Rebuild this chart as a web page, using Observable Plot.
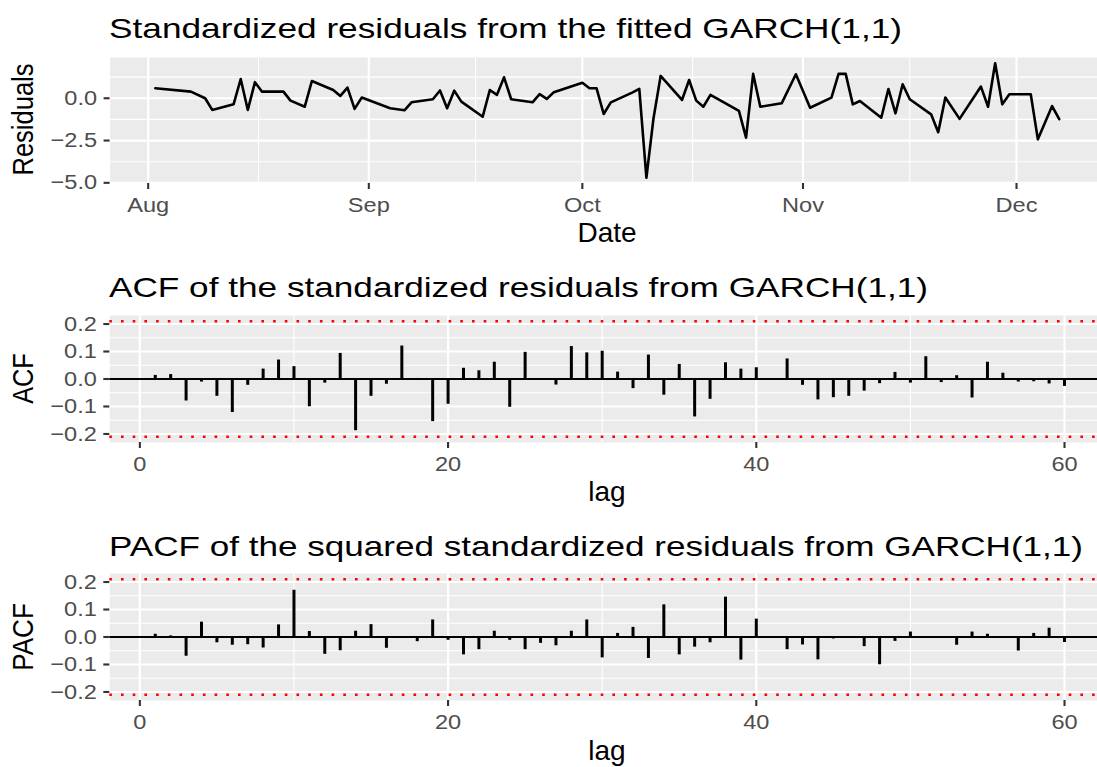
<!DOCTYPE html>
<html>
<head>
<meta charset="utf-8">
<script src="https://cdn.jsdelivr.net/npm/d3@7"></script>
<script src="https://cdn.jsdelivr.net/npm/@observablehq/plot@0.6"></script>
<style>
  html, body { margin: 0; padding: 0; background: #ffffff; }
  #wrap { position: relative; width: 1097px; height: 767px; overflow: hidden; font-family: "Liberation Sans", Arial, Helvetica, sans-serif; }
  #wrap > .panel { position: absolute; left: 0; }
  #wrap > svg.overlay { position: absolute; left: 0; top: 0; pointer-events: none; }
</style>
</head>
<body>
<div id="wrap"></div>
<script>
// ---------------- data ----------------
const dates = [
  "2018-08-02","2018-08-07","2018-08-09","2018-08-10","2018-08-13","2018-08-14","2018-08-15","2018-08-16","2018-08-17","2018-08-20","2018-08-21","2018-08-23","2018-08-24","2018-08-27","2018-08-28","2018-08-29","2018-08-30","2018-08-31",
  "2018-09-04","2018-09-06","2018-09-07","2018-09-10","2018-09-11","2018-09-12","2018-09-13","2018-09-14","2018-09-17","2018-09-18","2018-09-19","2018-09-20","2018-09-21","2018-09-24","2018-09-25","2018-09-26","2018-09-27",
  "2018-10-01","2018-10-02","2018-10-03","2018-10-04","2018-10-05","2018-10-08","2018-10-09","2018-10-10","2018-10-11","2018-10-12","2018-10-15","2018-10-16","2018-10-17","2018-10-18","2018-10-19","2018-10-23","2018-10-24","2018-10-25","2018-10-26","2018-10-29","2018-10-31",
  "2018-11-02","2018-11-05","2018-11-06","2018-11-07","2018-11-08","2018-11-09","2018-11-12","2018-11-13","2018-11-14","2018-11-15","2018-11-16","2018-11-19","2018-11-20","2018-11-21","2018-11-23","2018-11-26","2018-11-27","2018-11-28","2018-11-29","2018-11-30",
  "2018-12-03","2018-12-04","2018-12-06","2018-12-07"
];
const residuals = [
  0.59,0.39,0.00,-0.69,-0.36,1.14,-0.69,0.95,0.39,0.39,-0.14,-0.50,1.02,0.49,0.14,0.63,-0.63,0.04,
  -0.59,-0.71,-0.24,-0.06,0.46,-0.59,0.45,-0.20,-1.09,0.49,0.20,1.24,-0.06,-0.24,0.24,-0.04,0.36,
  0.92,0.59,0.59,-0.93,-0.24,0.33,0.55,-4.70,-1.18,1.32,-0.10,1.08,-0.14,-0.50,0.20,-0.75,-2.33,1.44,-0.50,-0.30,1.42,
  -0.56,0.04,1.44,1.44,-0.36,-0.16,-1.15,0.55,-0.89,0.83,-0.06,-0.95,-2.01,0.04,-1.22,0.69,-0.50,2.07,-0.36,0.24,
  0.24,-2.43,-0.46,-1.24
];
const lags = d3.range(1, 61);
const acfValues = [
  0.013, 0.016,-0.080,-0.011,-0.063,-0.122,-0.023, 0.036, 0.069, 0.045,
 -0.101,-0.015, 0.093,-0.188,-0.063,-0.019, 0.120, 0.002,-0.155,-0.092,
  0.039, 0.030, 0.061,-0.103, 0.097, 0.001,-0.022, 0.118, 0.095, 0.101,
  0.025,-0.035, 0.087,-0.059, 0.053,-0.138,-0.074, 0.059, 0.036, 0.041,
 -0.003, 0.073,-0.023,-0.076,-0.068,-0.063,-0.044,-0.017, 0.024,-0.015,
  0.081,-0.013, 0.012,-0.069, 0.061, 0.021,-0.011,-0.010,-0.018,-0.027
];
const pacfValues = [
  0.010, 0.004,-0.070, 0.054,-0.021,-0.030,-0.028,-0.040, 0.044, 0.170,
  0.020,-0.063,-0.050, 0.021, 0.045,-0.041, 0.001,-0.017, 0.062,-0.012,
 -0.065,-0.046, 0.021,-0.012,-0.046,-0.023,-0.032, 0.021, 0.062,-0.076,
  0.013, 0.035,-0.078, 0.117,-0.065,-0.037,-0.021, 0.145,-0.084, 0.065,
  0.001,-0.046,-0.029,-0.083,-0.007, 0.001,-0.035,-0.101,-0.016, 0.018,
  0.001,-0.004,-0.030, 0.018, 0.010, 0.001,-0.051, 0.013, 0.032,-0.020
];
const confBound = 0.21;
const monthTicks = ["2018-08-01","2018-09-01","2018-10-01","2018-11-01","2018-12-01"];
const monthMinor = ["2018-08-16T12:00","2018-09-16T00:00","2018-10-16T12:00","2018-11-16T00:00"];
const resTicks = [0, -2.5, -5];
const resMinor = [1.25, -1.25, -3.75];
const corTicks = [-0.2, -0.1, 0, 0.1, 0.2];
const corMinor = [-0.15, -0.05, 0.05, 0.15];
const lagTicks = [0, 20, 40, 60];
const lagMinor = [10, 30, 50];
const titles = [
  "Standardized residuals from the fitted GARCH(1,1)",
  "ACF of the standardized residuals from GARCH(1,1)",
  "PACF of the squared standardized residuals from GARCH(1,1)"
];
const xTitles = ["Date", "lag", "lag"];
const yTitles = ["Residuals", "ACF", "PACF"];

// ---------------- drawing ----------------
const W = 1097;
const FONT = "'Liberation Sans', Arial, Helvetica, sans-serif";
const utc = s => new Date(s + (s.length === 10 ? "T00:00:00Z" : "Z"));
const wrap = document.getElementById("wrap");
const PANEL_BG = "#EBEBEB";
const gridMajor = {stroke: "white", strokeOpacity: 1, strokeWidth: 2.2};
const gridMinorStyle = {stroke: "white", strokeOpacity: 1, strokeWidth: 1.1};
const axisStyle = {tickSize: 6, fontSize: 20.5, stroke: "#333333", fill: "#4D4D4D", strokeWidth: 2.1, label: null};
const TICK_STRETCH = 1.15;

function place(svg, top) {
  svg.classList.add("panel");
  svg.style.top = top + "px";
  wrap.appendChild(svg);
  // the reference's tick labels are drawn slightly wider than Arial/Liberation Sans
  svg.querySelectorAll('g[aria-label$="tick label"] text').forEach(t => {
    const L = t.getComputedTextLength();
    t.setAttribute("textLength", (L * TICK_STRETCH).toFixed(2));
    t.setAttribute("lengthAdjust", "spacingAndGlyphs");
  });
}

// Panel 1: residual time series
const resData = dates.map((d, i) => ({date: utc(d), value: residuals[i]}));
const p1 = Plot.plot({
  width: W, height: 203,
  marginTop: 7, marginBottom: 70, marginLeft: 109.6, marginRight: 0,
  style: {fontFamily: FONT, background: "transparent"},
  x: {type: "utc", domain: [utc("2018-07-26T15:36"), utc("2018-12-12T09:05")]},
  y: {domain: [-5.04, 2.41]},
  marks: [
    Plot.frame({fill: PANEL_BG, stroke: "none"}),
    Plot.gridX(monthMinor.map(utc), gridMinorStyle),
    Plot.gridY(resMinor, gridMinorStyle),
    Plot.gridX(monthTicks.map(utc), gridMajor),
    Plot.gridY(resTicks, gridMajor),
    Plot.lineY(resData, {x: "date", y: "value", stroke: "black", strokeWidth: 2.6}),
    Plot.axisX(monthTicks.map(utc), {...axisStyle, tickPadding: 8, tickFormat: d3.utcFormat("%b")}),
    Plot.axisY(resTicks, {...axisStyle, tickPadding: 7, tickFormat: d3.format(".1f")})
  ]
});
place(p1, 50);

function corPanel(values) {
  const data = lags.map((l, i) => ({lag: l, value: values[i]}));
  return Plot.plot({
    width: W, height: 204,
    marginTop: 7, marginBottom: 70, marginLeft: 109.3, marginRight: 0,
    style: {fontFamily: FONT, background: "transparent"},
    x: {domain: [-1.95, 62.14]},
    y: {domain: [-0.231, 0.231]},
    marks: [
      Plot.frame({fill: PANEL_BG, stroke: "none"}),
      Plot.gridX(lagMinor, gridMinorStyle),
      Plot.gridY(corMinor, gridMinorStyle),
      Plot.gridX(lagTicks, gridMajor),
      Plot.gridY(corTicks, gridMajor),
      Plot.ruleX(data, {x: "lag", y1: 0, y2: "value", stroke: "black", strokeWidth: 3.0}),
      Plot.ruleY([0], {stroke: "black", strokeWidth: 2.2}),
      Plot.ruleY([confBound, -confBound], {stroke: "#FF0000", strokeWidth: 2.6, strokeDasharray: "2.6,9.1"}),
      Plot.axisX(lagTicks, {...axisStyle, tickPadding: 8, tickFormat: d3.format("d")}),
      Plot.axisY(corTicks, {...axisStyle, tickPadding: 7, tickFormat: d3.format(".1f")})
    ]
  });
}
place(corPanel(acfValues), 308);
place(corPanel(pacfValues), 566);

// Titles and axis titles (real text)
const ov = d3.select(wrap).append("svg")
  .attr("class", "overlay")
  .attr("width", W).attr("height", 767)
  .style("font-family", FONT);

const titleBaselines = [37.7, 297.3, 556.3];
const titleLengths = [793, 819, 974];
titles.forEach((t, i) => {
  ov.append("text").attr("x", 109).attr("y", titleBaselines[i])
    .attr("font-size", 28).attr("fill", "black")
    .attr("textLength", titleLengths[i]).attr("lengthAdjust", "spacingAndGlyphs")
    .text(t);
});

const xTitleBaselines = [242.3, 501.3, 759.5];
xTitles.forEach((t, i) => {
  ov.append("text").attr("x", 607).attr("y", xTitleBaselines[i]).attr("text-anchor", "middle")
    .attr("font-size", 28).attr("fill", "black").text(t);
});
const yTitleCenters = [119.5, 378.5, 637];
const yTitleLengths = [112, 50.7, 67.7];
yTitles.forEach((t, i) => {
  ov.append("text").attr("transform", `translate(33,${yTitleCenters[i]}) rotate(-90)`)
    .attr("text-anchor", "middle").attr("font-size", 29).attr("fill", "black")
    .attr("textLength", yTitleLengths[i]).attr("lengthAdjust", "spacingAndGlyphs")
    .text(t);
});
</script>
</body>
</html>
